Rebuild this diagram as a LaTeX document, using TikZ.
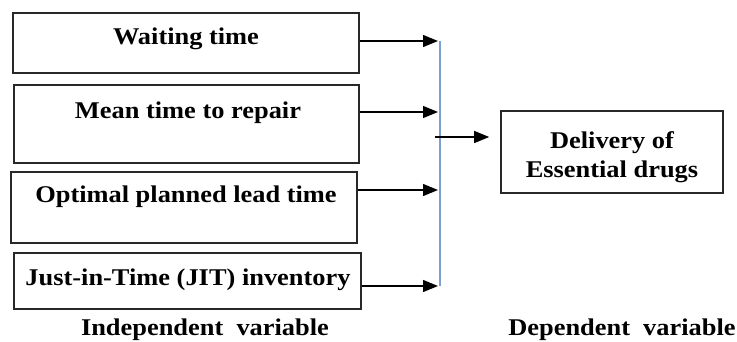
\documentclass[tikz,border=0pt]{standalone}
\usepackage{fontspec}
\setmainfont{Liberation Serif}
\newfontfamily\lblfont[FakeStretch=1.1]{Liberation Serif}
\usetikzlibrary{arrows.meta}
\definecolor{barblue}{RGB}{125,160,210}
\definecolor{boxline}{RGB}{40,40,40}
\begin{document}
\begin{tikzpicture}[x=1pt,y=-1pt,
  box/.style={draw=boxline,line width=1.6pt,inner sep=0pt},
  lbl/.style={font=\lblfont\fontsize{24}{29}\selectfont\bfseries,inner sep=0pt,anchor=center},
  arr/.style={line width=1.3pt,-{Triangle[length=15pt,width=12pt]}}]
\useasboundingbox (0,0) rectangle (737,342);
% boxes
\node[box,minimum width=346pt,minimum height=60pt] (b1) at (186,43) {};
\node[box,minimum width=345pt,minimum height=78pt] (b2) at (186.5,124) {};
\node[box,minimum width=346pt,minimum height=71pt] (b3) at (184,207.5) {};
\node[box,minimum width=347pt,minimum height=56pt] (b4) at (187.5,281) {};
\node[box,minimum width=222pt,minimum height=82pt] (d) at (612,152) {};
% labels
\node[lbl] (t1) at (186,39) {Waiting time};
\node[lbl] (t2) at (188,113) {Mean time to repair};
\node[lbl] (t3) at (186,197) {Optimal planned lead time};
\node[lbl] (t4) at (188,280) {Just-in-Time (JIT) inventory};
\node[lbl,align=center] (t5) at (612,157) {Delivery of\\Essential drugs};
\node[lbl] (iv) at (205,330) {Independent\ \ variable};
\node[lbl] (dv) at (622,330) {Dependent\ \ variable};
% bar
\coordinate (top) at (440,41);
\coordinate (bot) at (440,286);
\draw[barblue,line width=1.6pt] (top) -- (bot);
\coordinate (a1) at (438,41);
\coordinate (a2) at (438,112);
\coordinate (a3) at (438,190);
\coordinate (a4) at (438,286);
\coordinate (m0) at (435,137);
\coordinate (m1) at (d.west |- m0);
\draw[arr] (b1.east |- a1) -- (a1);
\draw[arr] (b2.east |- a2) -- (a2);
\draw[arr] (b3.east |- a3) -- (a3);
\draw[arr] (b4.east |- a4) -- (a4);
\draw[arr] (m0) -- ([xshift=-11pt]m1);
\end{tikzpicture}
\end{document}
